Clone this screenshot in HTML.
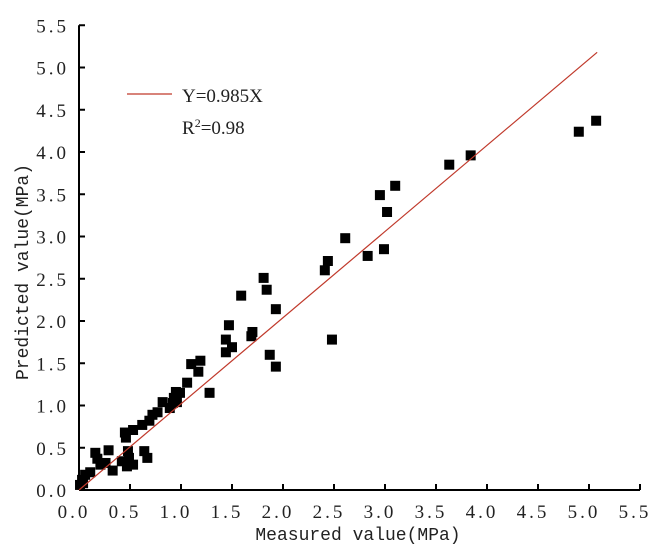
<!DOCTYPE html>
<html><head><meta charset="utf-8"><style>
body{margin:0;background:#fff}
svg text{font-family:"Liberation Serif","Noto Serif CJK SC",serif;fill:#222}
svg text.mono{font-family:"Liberation Mono","Noto Sans CJK SC",monospace}
</style></head><body>
<svg id="chart" width="667" height="552" viewBox="0 0 667 552" xmlns="http://www.w3.org/2000/svg">
<g id="axes"></g>
<g id="marks"></g>
<line x1="127" y1="94" x2="172" y2="94" stroke="#c0392b" stroke-width="1.2"/>
<text x="182" y="102" font-size="19">Y=0.985X</text>
<text x="182" y="134" font-size="19">R<tspan dy="-7" font-size="12">2</tspan><tspan dy="7">=0.98</tspan></text>
<text class="mono" x="358" y="540" font-size="18" text-anchor="middle">Measured value(MPa)</text>
<text class="mono" transform="translate(28,272) rotate(-90)" font-size="18" text-anchor="middle">Predicted value(MPa)</text>
</svg>
<script>
const xTicks=["0.0","0.5","1.0","1.5","2.0","2.5","3.0","3.5","4.0","4.5","5.0","5.5"];
const yTicks=["0.0","0.5","1.0","1.5","2.0","2.5","3.0","3.5","4.0","4.5","5.0","5.5"];
const measured=[4.90,5.07,3.63,3.84,3.10,2.95,3.02,2.99,2.83,2.61,2.44,2.41,2.48,1.81,1.84,1.59,1.93,1.47,1.70,1.69,1.44,1.44,1.50,1.87,1.93,1.10,1.19,1.17,1.06,1.28,0.95,0.99,0.93,0.96,0.89,0.82,0.92,0.77,0.72,0.69,0.62,0.53,0.45,0.46,0.48,0.49,0.42,0.47,0.53,0.64,0.67,0.29,0.16,0.18,0.26,0.21,0.33,0.11,0.06,0.03,0.04,0.01];
const predicted=[4.24,4.37,3.85,3.96,3.60,3.49,3.29,2.85,2.77,2.98,2.71,2.60,1.78,2.51,2.37,2.30,2.14,1.95,1.87,1.82,1.78,1.63,1.69,1.60,1.46,1.49,1.53,1.40,1.27,1.15,1.16,1.15,1.09,1.04,0.97,1.04,1.03,0.92,0.89,0.82,0.77,0.71,0.68,0.62,0.46,0.38,0.34,0.28,0.30,0.46,0.38,0.47,0.44,0.37,0.32,0.30,0.23,0.21,0.18,0.12,0.08,0.06];
const fitX=[0,5.08];
const fitY=[0,5.18];
const NS="http://www.w3.org/2000/svg";
const X0=79,XS=102,Y0=490,YS=84.5;
const sx=v=>X0+v*XS, sy=v=>Y0-v*YS;
function mk(t,a,p){const e=document.createElementNS(NS,t);for(const k in a)e.setAttribute(k,a[k]);p.appendChild(e);return e;}
const ax=document.getElementById('axes');
let l=mk('line',{x1:X0,y1:Y0,x2:sx(5.5),y2:Y0,stroke:'#000','stroke-width':2},ax);


l=mk('line',{x1:X0,y1:Y0,x2:X0,y2:sy(5.5),stroke:'#000','stroke-width':2},ax);


xTicks.forEach((t,i)=>{const v=parseFloat(t);
 const tk=mk('line',{x1:sx(v),y1:Y0,x2:sx(v),y2:Y0-6,stroke:'#000','stroke-width':2},ax);
 
 
 const tx=mk('text',{x:sx(v)-5,y:Y0+28,'font-size':19,'text-anchor':'middle','letter-spacing':'3'},ax);tx.textContent=t;
 
 
});
yTicks.forEach((t,i)=>{const v=parseFloat(t);
 const tk=mk('line',{x1:X0,y1:sy(v),x2:X0+6,y2:sy(v),stroke:'#000','stroke-width':2},ax);
 
 
 const tx=mk('text',{x:X0-10,y:sy(v)+7,'font-size':19,'text-anchor':'end','letter-spacing':'3'},ax);tx.textContent=t;
 
 
});
const mg=document.getElementById('marks');
measured.forEach((m,i)=>{
 const r=mk('rect',{x:sx(m)-5,y:sy(predicted[i])-5,width:10,height:10,fill:'#000'},mg);
 
 
});
const fl=mk('line',{x1:sx(fitX[0]),y1:sy(fitY[0]),x2:sx(fitX[1]),y2:sy(fitY[1]),stroke:'#c0392b','stroke-width':1.2},mg);


</script>
</body></html>
